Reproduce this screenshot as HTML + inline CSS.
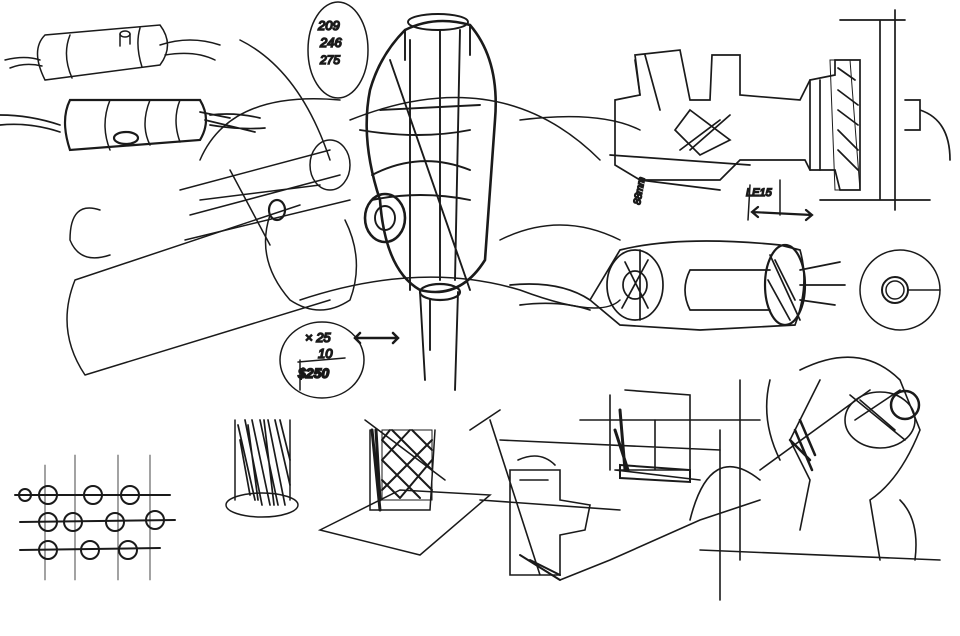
<!DOCTYPE html>
<html><head><meta charset="utf-8"><style>
html,body{margin:0;padding:0;background:#fff;}
svg{display:block}
text{font-family:"Liberation Sans",sans-serif;fill:#111;font-style:italic}
</style></head><body>
<svg width="960" height="636" viewBox="0 0 960 636" xmlns="http://www.w3.org/2000/svg" fill="none" stroke="#1a1a1a" stroke-width="1.5" stroke-linecap="round">
<rect width="960" height="636" fill="#fff" stroke="none"/>
<!-- top-left capsules -->
<g>
<path d="M45 35 Q30 50 45 80 L160 65 Q175 45 160 25 Z"/>
<path d="M70 35 Q62 55 72 78 M140 28 Q135 45 142 67"/>
<ellipse cx="125" cy="34" rx="5" ry="3"/><path d="M120 34 v12 M130 34 v10"/>
<path d="M5 60 Q25 55 40 60 M10 68 Q25 62 42 66 M160 45 Q190 35 220 45 M165 55 Q195 50 215 60"/>
<path d="M70 100 Q60 120 70 150 L200 140 Q212 120 200 100 Z" stroke-width="2.2"/>
<path d="M110 100 Q100 125 110 150 M150 100 Q140 125 150 145 M180 100 Q172 120 180 142"/>
<ellipse cx="126" cy="138" rx="12" ry="6" stroke-width="2.2"/>
<path d="M0 115 Q30 115 60 125 M0 125 Q30 122 60 132 M210 115 Q235 112 260 118 M210 125 Q240 130 265 128 M200 112 L230 118 M205 120 L255 132" stroke-width="1.7"/>
</g>
<!-- big cylinder left -->
<path d="M75 280 Q55 330 85 375 M75 280 L300 205 M85 375 L330 300"/>
<path d="M270 215 Q255 260 290 300 Q320 320 350 300 Q365 260 345 220"/>
<path d="M100 210 Q70 200 70 240 Q80 265 110 255"/>
<path d="M180 190 L330 150 M185 240 L350 200 M190 215 L340 175 M230 170 L270 245 M200 200 L320 185"/>
<ellipse cx="277" cy="210" rx="8" ry="10" stroke-width="2.2"/>
<ellipse cx="330" cy="165" rx="20" ry="25"/>
<path d="M200 160 Q230 90 340 100 M240 40 Q300 70 330 160"/>
<!-- center bottle -->
<g stroke-width="1.9">
<path d="M405 30 Q435 15 470 25 Q500 60 495 120 L485 260 Q460 300 420 290 Q385 270 380 200 Q360 140 370 90 Q380 55 405 30 Z" stroke-width="2.6"/>
<path d="M405 30 L405 60 M470 25 L470 55 M390 60 L470 290 M440 30 L440 280 M460 30 L455 280 M410 40 L410 290"/>
<ellipse cx="438" cy="22" rx="30" ry="8"/>
<path d="M372 175 Q420 150 470 170 M372 200 Q420 190 470 200 M360 130 Q420 140 470 130 M380 110 L480 105"/>
<ellipse cx="385" cy="218" rx="20" ry="24" stroke-width="2.6"/>
<ellipse cx="385" cy="218" rx="10" ry="12"/>
<ellipse cx="440" cy="292" rx="20" ry="8" stroke-width="2.2"/>
<path d="M420 292 L425 380 M458 292 L455 390 M430 300 L430 350"/>
</g>
<path d="M300 300 Q420 260 520 290 Q600 320 620 300 M350 120 Q500 60 600 160 M520 120 Q600 110 640 130 M500 240 Q560 210 620 240"/>
<ellipse cx="338" cy="50" rx="30" ry="48"/>
<text x="318" y="30" font-size="13">209</text>
<text x="320" y="47" font-size="13">246</text>
<text x="320" y="64" font-size="12">275</text>
<ellipse cx="322" cy="360" rx="42" ry="38"/>
<text x="305" y="342" font-size="13">× 25</text>
<text x="318" y="358" font-size="13">10</text>
<text x="298" y="378" font-size="14" font-weight="bold">$250</text>
<path d="M298 362 L345 358 M300 360 v30"/>
<path d="M355 338 L398 338 M360 333 L355 338 L360 343 M393 333 L398 338 L393 343" stroke-width="2.5"/>
<!-- top right block -->
<g stroke-width="1.7">
<path d="M635 55 L680 50 L690 100 L710 100 L712 55 L740 55 L740 95 L800 100 L810 80 L835 75 L835 60 L860 60 L860 190 L840 190 L835 170 L810 170 L805 160 L740 160 L720 180 L640 180 L615 165 L615 100 L640 95 Z"/>
<path d="M830 60 L850 60 L860 190 L835 190 Z" stroke-width="1"/>
<path d="M838 68 L855 80 M838 90 L858 105 M838 110 L858 125 M838 130 L858 150 M838 150 L858 170"/>
<path d="M690 110 L730 140 L700 155 L675 130 Z M680 150 L720 120 M690 150 L730 115"/>
<path d="M810 80 L810 170 M820 80 L820 170 M880 20 L880 200 M895 10 L895 210 M820 200 L930 200 M840 20 L905 20"/>
<path d="M905 100 L920 100 L920 130 L905 130 M920 110 Q950 120 950 160"/>
<path d="M640 180 L720 190 M610 155 L750 165 M635 60 L640 95 M645 55 L660 110"/>
</g>
<text x="640" y="205" font-size="10" transform="rotate(-80 640 205)">88mm</text>
<text x="746" y="196" font-size="11">LE15</text>
<path d="M752 212 L812 215 M758 207 L752 212 L758 217 M806 210 L812 215 L806 220" stroke-width="2.2"/>
<path d="M780 180 L780 215 M750 185 L748 220"/>
<!-- right cylinder -->
<g stroke-width="1.7">
<path d="M590 300 L620 250 Q680 235 780 245 L800 250 Q810 285 795 325 L700 330 L620 325 L590 300 Z"/>
<ellipse cx="635" cy="285" rx="28" ry="35"/>
<ellipse cx="635" cy="285" rx="12" ry="14"/>
<path d="M640 250 L640 320 M625 262 L648 308 M648 260 L622 308"/>
<ellipse cx="785" cy="285" rx="20" ry="40" stroke-width="2.2"/>
<path d="M770 255 L800 320 M775 260 L795 300 M768 280 L790 320"/>
<path d="M690 270 L770 270 M690 310 L770 310 M690 270 Q680 290 690 310"/>
<path d="M800 270 L840 262 M800 285 L845 285 M800 300 L835 305"/>
<path d="M510 285 Q560 280 590 300 M520 305 Q560 300 590 310"/>
</g>
<circle cx="900" cy="290" r="40"/>
<circle cx="895" cy="290" r="13" stroke-width="2"/>
<circle cx="895" cy="290" r="9"/>
<path d="M908 290 L940 290"/>
<!-- bead rows -->
<g stroke-width="2">
<path d="M15 495 L170 495 M20 522 L175 520 M20 550 L160 548"/>
<circle cx="48" cy="495" r="9"/><circle cx="93" cy="495" r="9"/><circle cx="130" cy="495" r="9"/><circle cx="25" cy="495" r="6"/>
<circle cx="48" cy="522" r="9"/><circle cx="73" cy="522" r="9"/><circle cx="115" cy="522" r="9"/><circle cx="155" cy="520" r="9"/>
<circle cx="48" cy="550" r="9"/><circle cx="90" cy="550" r="9"/><circle cx="128" cy="550" r="9"/>
<path d="M45 465 L45 580 M75 455 L75 580 M118 455 L118 580 M150 455 L150 580" stroke-width="0.8"/>
</g>
<!-- hatched cylinder -->
<g>
<ellipse cx="262" cy="505" rx="36" ry="12"/>
<path d="M235 420 L235 500 M290 420 L290 500"/>
<path d="M238 425 L255 500 M245 420 L262 505 M252 420 L270 505 M260 420 L278 505 M268 420 L285 505 M275 420 L290 485 M240 440 L250 495 M280 420 L290 460 M248 425 L258 500 M264 420 L274 505" stroke-width="1.7"/>
<path d="M370 430 L370 510 L430 510 L435 430 M365 420 L445 480"/>
<path d="M320 530 L400 490 L490 495 L420 555 Z"/>
<rect x="382" y="430" width="50" height="70" fill="none" stroke-width="1"/>
<path d="M382 440 L432 490 M382 460 L420 498 M382 480 L400 498 M392 430 L432 470 M412 430 L432 450 M432 440 L382 490 M432 460 L400 498 M410 430 L382 460 M390 430 L382 440" stroke-width="2"/>
<path d="M372 430 L380 510 M376 430 L380 500" stroke-width="3"/>
</g>
<!-- bottom right complex -->
<g stroke-width="1.6">
<path d="M470 430 L500 410 M490 420 L540 575 M510 470 L560 470 L560 500 L590 505 L585 530 L560 535 L560 575 L510 575 Z"/>
<path d="M518 460 Q540 450 555 465 M520 480 L548 480"/>
<path d="M610 395 L610 470 M625 390 L690 395 L690 470 L615 470 M655 420 L655 470 M615 470 L700 480 M500 440 L720 450"/>
<path d="M615 430 L628 470 M620 410 L625 470" stroke-width="3"/>
<path d="M620 465 L690 470 L690 482 L620 478 Z" stroke-width="2"/>
<path d="M520 555 L560 580 M530 560 L560 575" stroke-width="2"/>
<path d="M580 420 L760 420 M560 580 L610 560 L700 520 L760 500 M720 430 L720 600 M740 380 L740 560"/>
<path d="M800 370 Q860 340 900 380 L920 430 Q900 480 870 500 L880 560 M820 380 L790 440 L810 480 L800 530"/>
<ellipse cx="880" cy="420" rx="35" ry="28"/>
<ellipse cx="905" cy="405" rx="14" ry="14" stroke-width="2.5"/>
<path d="M790 440 L810 460 M795 430 L812 470 M800 420 L815 455" stroke-width="2.5"/>
<path d="M850 395 L905 440 M855 420 L900 390 M860 400 L895 430"/>
<path d="M760 470 L870 390 M770 380 Q760 420 780 460 M700 550 L940 560 M900 500 Q920 520 915 560"/>
<path d="M690 520 Q710 440 760 480 M480 500 L620 510"/>
</g>
</svg>
</body></html>
